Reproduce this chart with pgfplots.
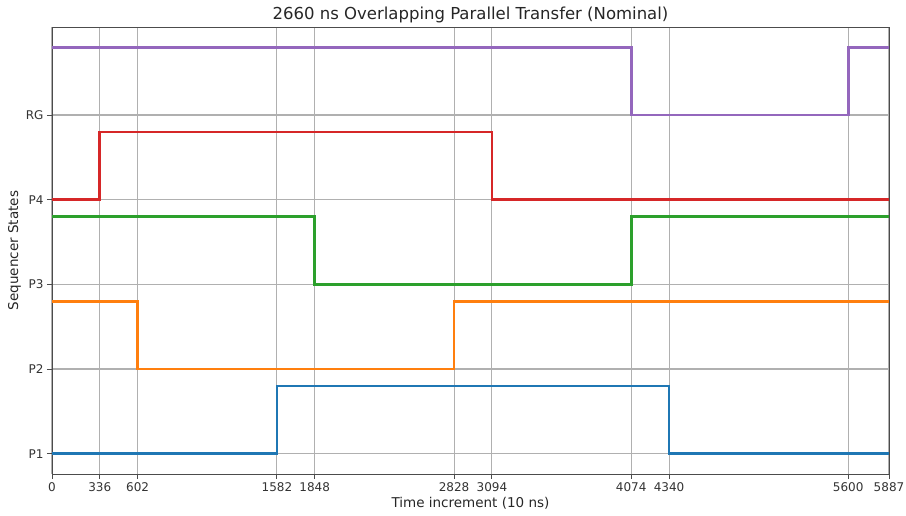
\documentclass[border=0pt]{standalone}
\usepackage{pgfplots}
\pgfplotsset{compat=1.18}
\usepackage{fontspec}
\setmainfont{DejaVu Sans}
\usetikzlibrary{calc}
\definecolor{tabblue}{HTML}{1F77B4}
\definecolor{taborange}{HTML}{FF7F0E}
\definecolor{tabgreen}{HTML}{2CA02C}
\definecolor{tabred}{HTML}{D62728}
\definecolor{tabpurple}{HTML}{9467BD}
\definecolor{gridgray}{HTML}{B0B0B0}
\begin{document}
\begin{tikzpicture}
\begin{axis}[
  scale only axis,
  width=837pt, height=447pt,
  xmin=0, xmax=5887,
  ymin=-0.24, ymax=5.04,
  xtick={0,336,602,1582,1848,2828,3094,4074,4340,5600,5887},
  xticklabels={0,336,602,1582,1848,2828,3094,4074,4340,5600,5887},
  ytick={0,1,2,3,4},
  yticklabels={P1,P2,P3,P4,RG},
  /pgf/number format/assume math mode=true,
  grid=major,
  major grid style={draw=gridgray, line width=1.1pt},
  axis line style={draw=black!70, line width=0.9pt},
  tick style={draw=black!70, line width=0.9pt},
  tick align=outside,
  major tick length=5pt,
  xtick pos=bottom, ytick pos=left,
  ticklabel style={font=\fontsize{12}{14}\selectfont, text=black!80},
  title={2660 ns Overlapping Parallel Transfer (Nominal)},
  title style={font=\fontsize{16.5}{19}\selectfont, text=black!85, yshift=-5pt},
  xlabel={Time increment (10 ns)},
  ylabel={Sequencer States},
  label style={font=\fontsize{13.5}{16}\selectfont, text=black!85},
  xlabel style={yshift=1pt},
  ylabel style={yshift=-2pt},
  every axis plot/.append style={const plot mark left, line width=2.8pt, mark=none},
]
\addplot[tabblue] coordinates {(0,0) (1582,0.8) (4340,0) (5887,0)};
\addplot[taborange] coordinates {(0,1.8) (602,1) (2828,1.8) (5887,1.8)};
\addplot[tabgreen] coordinates {(0,2.8) (1848,2) (4074,2.8) (5887,2.8)};
\addplot[tabred] coordinates {(0,3) (336,3.8) (3094,3) (5887,3)};
\addplot[tabpurple] coordinates {(0,4.8) (4074,4) (5600,4.8) (5887,4.8)};
\end{axis}
\pgfresetboundingbox
\path[use as bounding box] ($(current axis.south west)+(-52pt,-42pt)$) rectangle ($(current axis.north east)+(17pt,27pt)$);
\end{tikzpicture}
\end{document}
